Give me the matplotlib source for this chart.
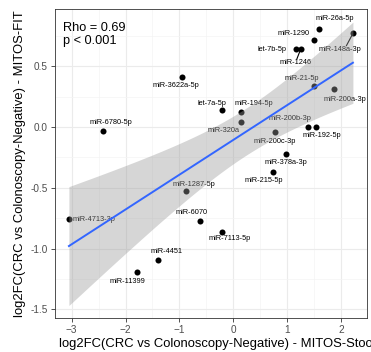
import matplotlib
matplotlib.use("Agg")
import matplotlib.pyplot as plt
import numpy as np
from matplotlib.ticker import MultipleLocator

plt.rcParams["font.family"] = ["Liberation Sans", "DejaVu Sans"]

mirnas = [
    "miR-26a-5p", "miR-1290", "miR-148a-3p", "let-7b-5p", "miR-1246",
    "miR-21-5p", "miR-200a-3p", "miR-3622a-5p", "let-7a-5p", "miR-194-5p",
    "miR-320a", "miR-200b-3p", "miR-192-5p", "miR-200c-3p", "miR-378a-3p",
    "miR-215-5p", "miR-6780-5p", "miR-4713-3p", "miR-11399", "miR-4451",
    "miR-6070", "miR-7113-5p", "miR-1287-5p",
]
stool_lfc = [
    1.60, 1.49, 2.22, 1.17, 1.25,
    1.50, 1.87, -0.95, -0.20, 0.15,
    0.15, 1.39, 1.54, 0.77, 0.97,
    0.73, -2.42, -3.05, -1.78, -1.39,
    -0.62, -0.20, -0.88,
]
fit_lfc = [
    0.81, 0.72, 0.77, 0.64, 0.64,
    0.34, 0.31, 0.41, 0.14, 0.12,
    0.04, 0.00, 0.00, -0.04, -0.22,
    -0.37, -0.03, -0.76, -1.19, -1.09,
    -0.77, -0.86, -0.53,
]
stats_text = "Rho = 0.69\np < 0.001"

# where the repelled labels ended up (data units)
label_pos = {
    "miR-26a-5p": (1.89, 0.89), "miR-1290": (1.12, 0.77),
    "miR-148a-3p": (1.98, 0.64), "let-7b-5p": (0.72, 0.64),
    "miR-1246": (1.16, 0.53), "miR-21-5p": (1.27, 0.40),
    "miR-200a-3p": (2.07, 0.23), "miR-3622a-5p": (-1.06, 0.34),
    "let-7a-5p": (-0.40, 0.19), "miR-194-5p": (0.39, 0.19),
    "miR-320a": (-0.18, -0.03), "miR-200b-3p": (1.06, 0.07),
    "miR-192-5p": (1.65, -0.07), "miR-200c-3p": (0.77, -0.12),
    "miR-378a-3p": (0.97, -0.29), "miR-215-5p": (0.57, -0.44),
    "miR-6780-5p": (-2.28, 0.04), "miR-4713-3p": (-2.59, -0.76),
    "miR-11399": (-1.96, -1.27), "miR-4451": (-1.23, -1.02),
    "miR-6070": (-0.77, -0.70), "miR-7113-5p": (-0.06, -0.92),
    "miR-1287-5p": (-0.73, -0.47),
}
# segment end points next to the label (data units)
segment_end = {"miR-148a-3p": (2.10, 0.67), "miR-1246": (1.18, 0.56)}


def lm_band(x, y, grid, level_t=2.08):
    n = len(x)
    slope, intercept = np.polyfit(x, y, 1)
    resid = y - (slope * x + intercept)
    s = np.sqrt(np.sum(resid**2) / (n - 2))
    xm = x.mean()
    sxx = np.sum((x - xm) ** 2)
    fit = slope * grid + intercept
    se = s * np.sqrt(1 / n + (grid - xm) ** 2 / sxx)
    return fit, fit - level_t * se, fit + level_t * se


def main() -> None:
    x = np.array(stool_lfc)
    y = np.array(fit_lfc)

    fig = plt.figure(figsize=(3.71, 3.52), dpi=100)
    ax = fig.add_axes([0.148, 0.097, 0.841, 0.877])

    ax.scatter(x, y, s=19, color="black", zorder=3, linewidths=0)

    for name, px, py in zip(mirnas, x, y):
        lx, ly = label_pos[name]
        if name in segment_end:
            ex, ey = segment_end[name]
            ax.plot([px, ex], [py, ey], color="black", lw=0.8, zorder=3)
        ax.text(lx, ly, name, fontsize=5.3, ha="center", va="center",
                color="black", zorder=3)

    grid = np.linspace(x.min(), x.max(), 100)
    fit, lo, hi = lm_band(x, y, grid)
    ax.fill_between(grid, lo, hi, color="#999999", alpha=0.4, lw=0, zorder=4)
    ax.plot(grid, fit, color="#3366FF", lw=1.4, zorder=5)

    ax.text(0.027, 0.958, stats_text, transform=ax.transAxes, ha="left",
            va="top", fontsize=9.2, linespacing=1.05, zorder=6)

    ax.set_xlim(-3.31, 2.48)
    ax.set_ylim(-1.57, 0.97)
    ax.xaxis.set_major_locator(MultipleLocator(1))
    ax.xaxis.set_minor_locator(MultipleLocator(0.5))
    ax.yaxis.set_major_locator(MultipleLocator(0.5))
    ax.yaxis.set_minor_locator(MultipleLocator(0.25))
    ax.yaxis.set_major_formatter(lambda v, pos: f"{v:.1f}")
    ax.grid(which="major", color="#EBEBEB", lw=0.8)
    ax.grid(which="minor", color="#F4F4F4", lw=0.5)
    ax.set_axisbelow(True)
    ax.tick_params(which="major", length=3, width=0.6, color="#333333",
                   labelsize=7.2, labelcolor="#4D4D4D", pad=2)
    ax.tick_params(which="minor", length=0)
    for spine in ax.spines.values():
        spine.set_color("#333333")
        spine.set_linewidth(0.6)

    # the reference cuts this title at the right edge, kept the same way
    ax.set_xlabel("log2FC(CRC vs Colonoscopy-Negative) - MITOS-Stool",
                  fontsize=9.4, labelpad=2, x=0.52)
    ax.set_ylabel("log2FC(CRC vs Colonoscopy-Negative) - MITOS-FIT",
                  fontsize=9.4, labelpad=3)

    fig.savefig("out.png", dpi=100)
    plt.close(fig)


if __name__ == "__main__":
    main()
